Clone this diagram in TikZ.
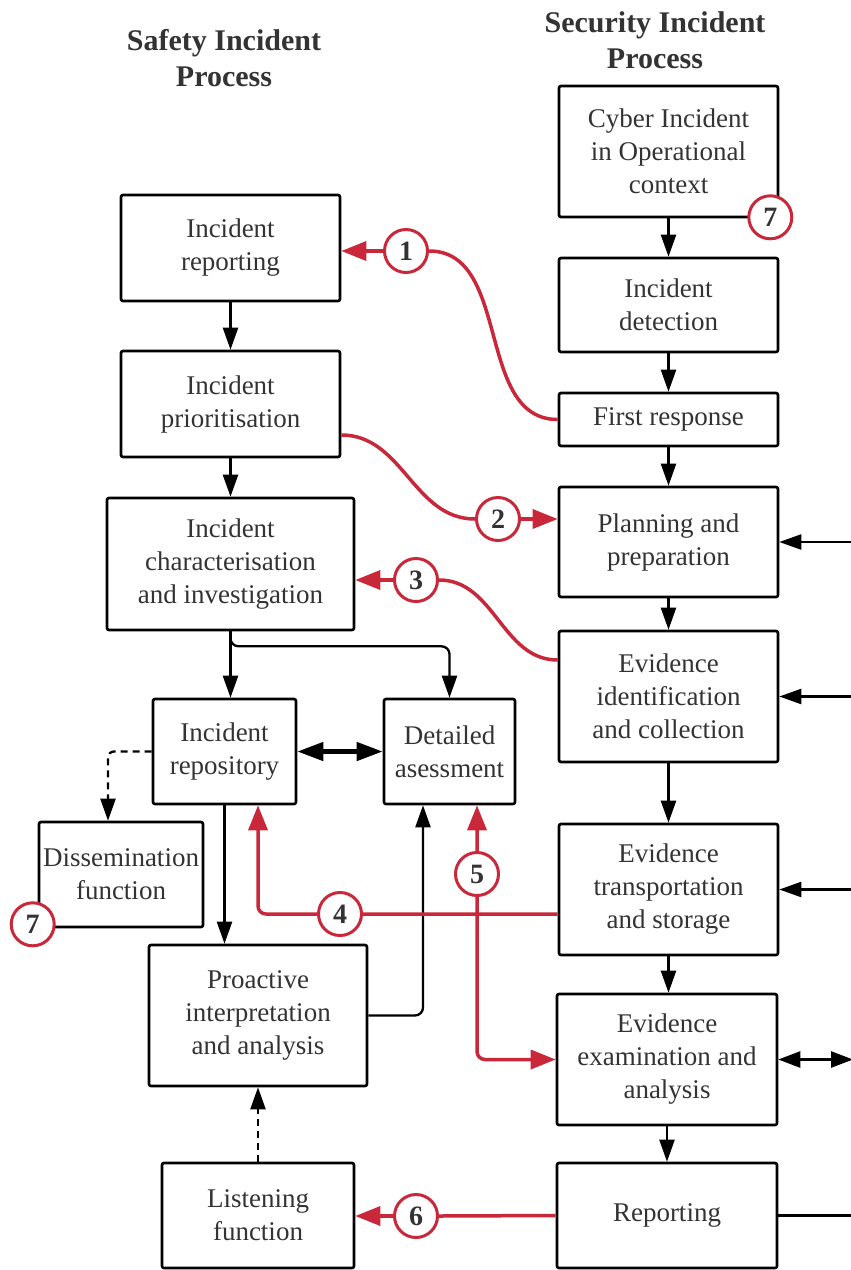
\documentclass[tikz,border=0pt]{standalone}
\usepackage{fontspec}
\setmainfont{Liberation Serif}
\usepackage{tikz}
\usetikzlibrary{positioning}
\usetikzlibrary{arrows.meta}
\usepackage{xcolor}
\definecolor{linkred}{HTML}{C8283A}
\definecolor{inkgrey}{HTML}{333333}

\begin{document}
\begin{tikzpicture}[
x = 1pt, y = -1pt,
every node/.style = {text = inkgrey, align = center, font = \fontsize{27}{33}\selectfont},
  head/.style = {font = \bfseries\fontsize{30}{36}\selectfont},
  box/.style 2 args = {draw = black, line width = 2.6pt, rounded corners = 2pt,
    minimum width = #1, minimum height = #2, inner sep = 0pt},
  num/.style = {circle, draw = linkred, line width = 3pt, fill = white,
    minimum size = 43pt, inner sep = 0pt, font = \bfseries\fontsize{28}{28}\selectfont},
  flow/.style = {line width = 2.3pt, -{Triangle[length = 22pt, width = 15pt]}},
  twoway/.style = {line width = 2.6pt, {Triangle[length = 22pt, width = 16pt]}-{Triangle[length = 22pt, width = 16pt]}},
  both/.style = {line width = 4.5pt, {Triangle[length = 26pt, width = 18pt]}-{Triangle[length = 26pt, width = 18pt]}},
  link/.style = {draw = linkred, line width = 3.5pt},
  linkarr/.style = {link, -{Triangle[length = 25pt, width = 19pt]}}
]
\useasboundingbox (0,0) rectangle (851,1270);

\node[head] (safetyhead) at (224,58) {Safety Incident\\Process};
\node[head] (securityhead) at (655,40) {Security Incident\\Process};

% security side
\node[box = {219pt}{131pt}] (cyber) at (668.5,151.5) {Cyber Incident\\in Operational\\context};
\node[box = {219pt}{94pt}] (detect) at (668.5,305) {Incident\\detection};
\node[box = {219pt}{53pt}] (respond) at (668.5,419.5) {First response};
\node[box = {219pt}{110pt}] (plan) at (668.5,542) {Planning and\\preparation};
\node[box = {219pt}{131pt}] (collect) at (668.5,696.5) {Evidence\\identification\\and collection};
\node[box = {219pt}{131pt}] (store) at (668.5,889.5) {Evidence\\transportation\\and storage};
\node[box = {220pt}{131pt}] (examine) at (667,1059.5) {Evidence\\examination and\\analysis};
\node[box = {220pt}{105pt}] (report) at (667,1215.5) {Reporting};

% safety side
\node[box = {219pt}{106pt}] (increp) at (230.5,248) {Incident\\reporting};
\node[box = {219pt}{106pt}] (prior) at (230.5,404) {Incident\\prioritisation};
\node[box = {247pt}{132pt}] (charac) at (230.5,564) {Incident\\characterisation\\and investigation};
\node[box = {143pt}{105pt}] (repo) at (224.5,751.5) {Incident\\repository};
\node[box = {131pt}{105pt}] (detail) at (449.5,751.5) {Detailed\\asessment};
\node[box = {164pt}{105pt}] (dissem) at (121,874.5) {Dissemination\\function};
\node[box = {218pt}{141pt}] (proact) at (258,1015.5) {Proactive\\interpretation\\and analysis};
\node[box = {192pt}{105pt}] (listen) at (258,1215.5) {Listening\\function};

\coordinate (rim) at (851,0);

% security chain
\draw[flow] (cyber) -- (detect);
\draw[flow] (detect) -- (respond);
\draw[flow] (respond) -- (plan);
\draw[flow] (plan) -- (collect);
\draw[flow] (collect) -- (store);
\draw[flow] (store) -- (store |- examine.north);
\draw[flow] (examine) -- (report);
\draw[flow] (plan.east -| rim) -- (plan.east);
\draw[flow] (collect.east -| rim) -- (collect.east);
\draw[flow] (store.east -| rim) -- (store.east);
\draw[twoway] (examine.east) -- ([xshift = 2pt]examine.east -| rim);
\draw[line width = 2.3pt] (report.east) -- (report.east -| rim);

% safety chain
\draw[flow] (increp) -- (prior);
\draw[flow] (prior) -- (charac);
\draw[flow] (charac.south) -- (charac.south |- repo.north);
\draw[flow, rounded corners = 8pt] (charac.south) -- ++(0,15) -| (detail.north);
\draw[both] (repo) -- (detail);
\draw[flow, dashed, dash pattern = on 7pt off 5pt, rounded corners = 6pt] (repo.west) -| ([xshift = -13pt]dissem.north);
\draw[flow] (repo.south) -- (repo.south |- proact.north);
\draw[flow, rounded corners = 8pt] (proact.east) -| ([xshift = -26.5pt]detail.south);
\draw[flow, dashed, dash pattern = on 7pt off 5pt] (listen) -- (proact);

% links between the two processes
\node[num] (one) at (406,251) {1};
\draw[link] (respond.west) to[out = 180, in = 0] (one.east);
\draw[linkarr] (one.west) -- (one.west -| increp.east);

\node[num] (two) at (498,519) {2};
\draw[link] ([yshift = -31pt]prior.east) to[out = 0, in = 180] (two.west);
\draw[linkarr] (two.east) -- (two.east -| plan.west);

\node[num] (three) at (416,580) {3};
\draw[link] ([yshift = 36.5pt]collect.west) to[out = 180, in = 0] (three.east);
\draw[linkarr] (three.west) -- (three.west -| charac.east);

\draw[linkarr, rounded corners = 8pt] ([yshift = -24.5pt]store.west) -| ([xshift = 33.5pt]repo.south);
\node[num] (four) at (340,914) {4};

\draw[link, {Triangle[length = 25pt, width = 19pt]}-{Triangle[length = 25pt, width = 19pt]}, rounded corners = 8pt]
  ([xshift = 27.5pt]detail.south) |- (examine.west);
\node[num] (five) at (477,874) {5};

\node[num] (six) at (416,1216) {6};
\draw[link] (report.west) -- (six.east);
\draw[linkarr] (six.west) -- (six.west -| listen.east);

\node[num] (sevena) at ([xshift = -9pt, yshift = 1pt]cyber.south east) {7};
\node[num] (sevenb) at ([xshift = -5pt, yshift = 4pt]dissem.south west) {7};
\end{tikzpicture}
\end{document}
